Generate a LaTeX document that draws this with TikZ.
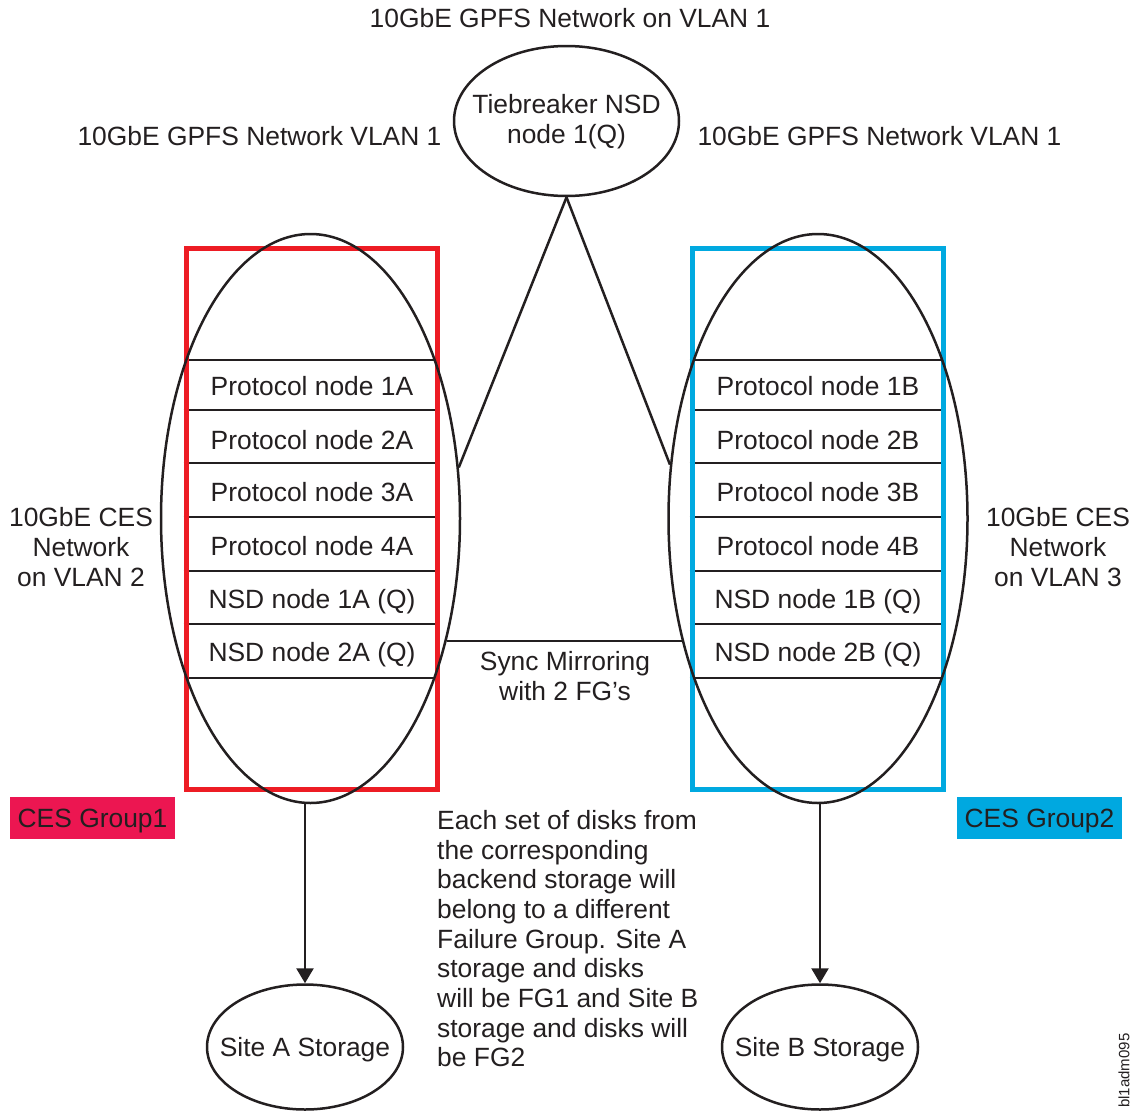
\documentclass[tikz,border=0pt]{standalone}
\usepackage{fontspec}
\setmainfont{Liberation Sans}
\usetikzlibrary{arrows.meta,shapes.geometric}
\definecolor{txt}{HTML}{231F20}
\definecolor{redbox}{HTML}{ED1C24}
\definecolor{bluebox}{HTML}{00A9E0}
\definecolor{grpone}{HTML}{EC1651}
\definecolor{grptwo}{HTML}{00A8E0}
\begin{document}
\begin{tikzpicture}[x=1pt,y=-1pt,
  font=\fontsize{26.4}{29.7}\selectfont,
  every node/.style={text=txt},
  every label/.style={inner sep=0pt, align=center, text=txt},
  lbl/.style={inner sep=0pt, text height=18.9pt, text depth=0pt},
  ml/.style={inner sep=0pt, align=center},
  ln/.style={draw=txt, line width=2.5pt},
  oval/.style={ellipse, draw=txt, line width=2.5pt, inner sep=0pt},
  grpbox/.style={line width=5pt, minimum width=251pt, minimum height=541pt, inner sep=0pt},
  tag/.style={minimum width=165pt, minimum height=42pt, inner sep=0pt, text height=18.9pt, text depth=0pt},
  arr/.style={ln, -{Triangle[length=15pt,width=17pt]}}
]
\useasboundingbox (0,0) rectangle (1133,1114);

% titles
\node[lbl] (title) at (570,18) {10GbE GPFS Network on VLAN 1};
\node[lbl] (gpfsL) at (259.5,136) {10GbE GPFS Network VLAN 1};
\node[lbl] (gpfsR) at (879.5,136) {10GbE GPFS Network VLAN 1};

% tiebreaker
\node[oval, minimum width=225pt, minimum height=150pt,
      label={[yshift=-1pt]center:Tiebreaker NSD\\node 1(Q)}] (tb) at (566.5,121) {};

% group boxes
\node[grpbox, draw=redbox] (boxA) at (311.5,519) {};
\node[grpbox, draw=bluebox] (boxB) at (817.5,519) {};

% separators
\foreach \yy in {360,410,463,517,571,624,678}{
  \draw[ln] (boxA.west |- 0,\yy) -- (boxA.east |- 0,\yy);
  \draw[ln] (boxB.west |- 0,\yy) -- (boxB.east |- 0,\yy);
}
% redraw box borders over separators
\node[grpbox, draw=redbox] at (boxA.center) {};
\node[grpbox, draw=bluebox] at (boxB.center) {};

% big ellipses
\node[oval, minimum width=299pt, minimum height=569pt] (ellA) at (310.5,518.5) {};
\node[oval, minimum width=299pt, minimum height=569pt] (ellB) at (818,518.5) {};

% rows
\node[lbl] (pa1) at (312,386) {Protocol node 1A};
\node[lbl] (pa2) at (312,440) {Protocol node 2A};
\node[lbl] (pa3) at (312,492) {Protocol node 3A};
\node[lbl] (pa4) at (312,546) {Protocol node 4A};
\node[lbl] (na1) at (312,599) {NSD node 1A (Q)};
\node[lbl] (na2) at (312,652) {NSD node 2A (Q)};
\node[lbl] (pb1) at (818,386) {Protocol node 1B};
\node[lbl] (pb2) at (818,440) {Protocol node 2B};
\node[lbl] (pb3) at (818,492) {Protocol node 3B};
\node[lbl] (pb4) at (818,546) {Protocol node 4B};
\node[lbl] (nb1) at (818,599) {NSD node 1B (Q)};
\node[lbl] (nb2) at (818,652) {NSD node 2B (Q)};

% tiebreaker links
\draw[ln] (tb.south) -- (ellA.19.3);
\draw[ln] (tb.south) -- (ellB.160.7);

% sync mirroring
\draw[ln] (ellA.-42) -- (ellB.-138);
\node[ml] (sync) at (565,676) {Sync Mirroring\\with 2 FG’s};

% CES network labels
\node[ml] (cesL) at (81,547) {10GbE CES\\Network\\on VLAN 2};
\node[ml] (cesR) at (1058,547) {10GbE CES\\Network\\on VLAN 3};

% group tags
\node[tag, fill=grpone] (g1) at (92.5,818) {CES Group1};
\node[tag, fill=grptwo] (g2) at (1039.5,818) {CES Group2};

% storage
\node[oval, minimum width=196pt, minimum height=125pt,
      label={[yshift=-3pt]center:Site A Storage}] (siteA) at (305,1047) {};
\node[oval, minimum width=196pt, minimum height=125pt,
      label={[yshift=-3pt]center:Site B Storage}] (siteB) at (820,1047) {};
\draw[arr] (ellA.south -| siteA.north) -- (siteA.north);
\draw[arr] (ellB.south -| siteB.north) -- (siteB.north);

% note
\node[inner sep=0pt, align=left, anchor=north west] (note) at (437,810) {Each set of disks from\\the corresponding\\backend storage will\\belong to a different\\Failure Group. Site A\\storage and disks\\will be FG1 and Site B\\storage and disks will\\be FG2};

% figure id
\node[inner sep=0pt, rotate=90, anchor=west, font=\fontsize{15}{17}\selectfont] (figid) at (1124,1108) {bl1adm095};
\end{tikzpicture}
\end{document}
